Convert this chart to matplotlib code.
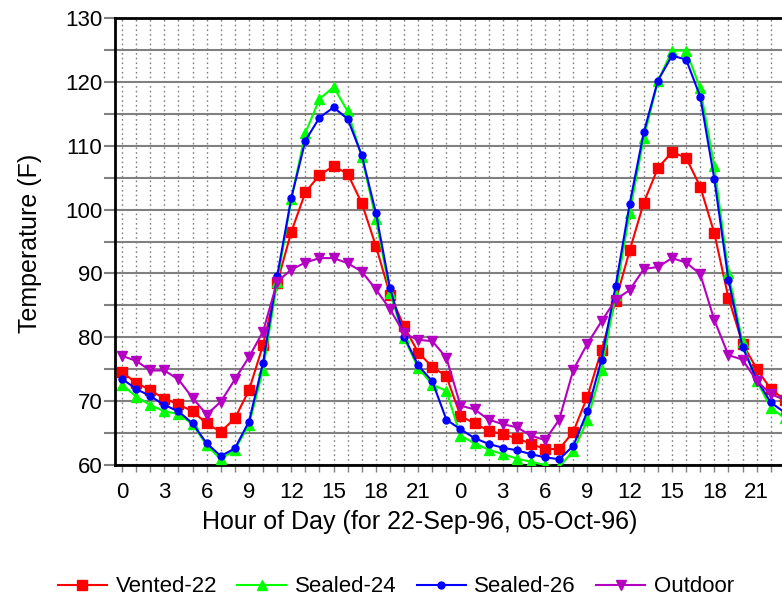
import numpy as np
import matplotlib
matplotlib.use("Agg")
import matplotlib.pyplot as plt
from matplotlib.ticker import MultipleLocator, FixedLocator, FixedFormatter

# ---------------------------------------------------------------------------
# Data: hourly temperatures (F), 22-Sep-96 hours 0-23 then 05-Oct-96 hours 0-23
# (last point sits just past the right edge of the frame)
# ---------------------------------------------------------------------------
hours = list(range(24)) + list(range(24))

vented_22 = [74.5, 72.9, 71.7, 70.4, 69.5, 68.4, 66.5, 65.2, 67.3, 71.7, 78.8, 88.5,
             96.5, 102.7, 105.4, 106.8, 105.6, 101.0, 94.3, 86.7, 81.7, 77.6, 75.4, 73.9,
             67.7, 66.5, 65.4, 64.8, 64.2, 63.3, 62.5, 62.5, 65.2, 70.7, 78.0, 85.7,
             93.6, 101.1, 106.5, 109.0, 108.1, 103.6, 96.3, 86.2, 79.0, 75.1, 71.9, 70.2]
sealed_24 = [72.6, 70.7, 69.4, 68.4, 68.0, 66.4, 63.1, 60.9, 62.4, 66.3, 74.9, 88.6,
             101.6, 112.0, 117.3, 119.2, 115.4, 108.3, 98.5, 87.0, 79.9, 75.2, 72.6, 71.6,
             64.6, 63.4, 62.4, 61.7, 61.0, 60.5, 60.0, 59.7, 62.2, 67.0, 74.9, 86.6,
             99.5, 111.2, 120.1, 124.9, 124.9, 119.0, 106.8, 90.1, 79.2, 73.2, 69.0, 67.3]
sealed_26 = [73.5, 71.9, 70.8, 69.4, 68.4, 66.5, 63.4, 61.4, 62.6, 66.8, 76.0, 89.6,
             101.8, 110.8, 114.4, 116.0, 114.2, 108.5, 99.5, 87.7, 80.1, 75.6, 73.1, 67.1,
             65.6, 64.2, 63.3, 62.7, 62.3, 61.7, 61.2, 60.9, 63.0, 68.4, 76.5, 88.0,
             100.9, 112.1, 120.2, 124.1, 123.5, 117.7, 104.8, 89.0, 78.5, 73.4, 69.8, 68.2]
outdoor = [77.1, 76.3, 74.8, 74.8, 73.4, 70.5, 67.9, 69.9, 73.4, 76.9, 80.9, 88.7,
           90.6, 91.7, 92.4, 92.4, 91.6, 90.3, 87.5, 84.4, 80.6, 79.6, 79.4, 76.8,
           69.3, 68.7, 67.1, 66.4, 65.9, 64.6, 63.9, 67.1, 74.9, 79.0, 82.5, 85.9,
           87.4, 90.7, 91.0, 92.4, 91.7, 89.9, 82.7, 77.2, 76.5, 73.2, 71.1, 70.2]

series = [
    ("Vented-22", vented_22, "#ff0000", "s", 6.5),
    ("Sealed-24", sealed_24, "#00ff00", "^", 6.5),
    ("Sealed-26", sealed_26, "#0000ff", "o", 5.0),
    ("Outdoor", outdoor, "#b400c0", "v", 6.5),
]

# ---------------------------------------------------------------------------
# Plot
# ---------------------------------------------------------------------------
plt.rcParams.update({
    "font.family": ["Liberation Sans", "DejaVu Sans"],
    "font.size": 16,
})

fig = plt.figure(figsize=(7.82, 6.0), dpi=100)
ax = fig.add_axes([115 / 782, 1 - 465 / 600, 1 - 115 / 782, (465 - 18) / 600])

x = np.arange(len(hours))
for name, vals, col, mk, ms in series:
    ax.plot(x, vals, color=col, lw=1.5, marker=mk, ms=ms, mec=col, mfc=col,
            label=name, zorder=3, clip_on=True)

ax.set_xlim(-0.5, 46.8)
ax.set_ylim(60, 130)

# x ticks: labels every 3 hours, dotted grid every hour
major_pos = [i for i in range(len(hours)) if hours[i] % 3 == 0 and i <= 46]
ax.xaxis.set_major_locator(FixedLocator(major_pos))
ax.xaxis.set_major_formatter(FixedFormatter([str(hours[i]) for i in major_pos]))
ax.xaxis.set_minor_locator(MultipleLocator(1))
ax.grid(True, axis="x", which="both", color="#808080", ls=(0, (1.2, 2.2)), lw=1.0)

# y ticks: labels every 10, solid grid every 5
ax.yaxis.set_major_locator(MultipleLocator(10))
ax.yaxis.set_minor_locator(MultipleLocator(5))
ax.grid(True, axis="y", which="both", color="#808080", ls="-", lw=1.5)
ax.set_axisbelow(True)

ax.tick_params(axis="x", which="both", length=5, width=1, color="#808080",
               labelsize=16, pad=7)
ax.tick_params(axis="y", which="both", length=8, width=1.5, color="#808080",
               labelsize=16, pad=1)

for side in ("left", "bottom", "top"):
    ax.spines[side].set_color("black")
    ax.spines[side].set_linewidth(2.0)
ax.spines["right"].set_visible(False)

ax.set_xlabel("Hour of Day (for 22-Sep-96, 05-Oct-96)", fontsize=18)
ax.xaxis.set_label_coords((420 - 115) / 667, -0.100)
ax.set_ylabel("Temperature (F)", fontsize=18)
ax.yaxis.set_label_coords(-0.110, 0.495)

fig.legend(loc="center", bbox_to_anchor=(396 / 782, 1 - 587 / 600), ncol=4,
           frameon=False, fontsize=16, handlelength=2.2, columnspacing=0.9,
           handletextpad=0.4)

fig.savefig("out.png", dpi=100)
plt.close(fig)
